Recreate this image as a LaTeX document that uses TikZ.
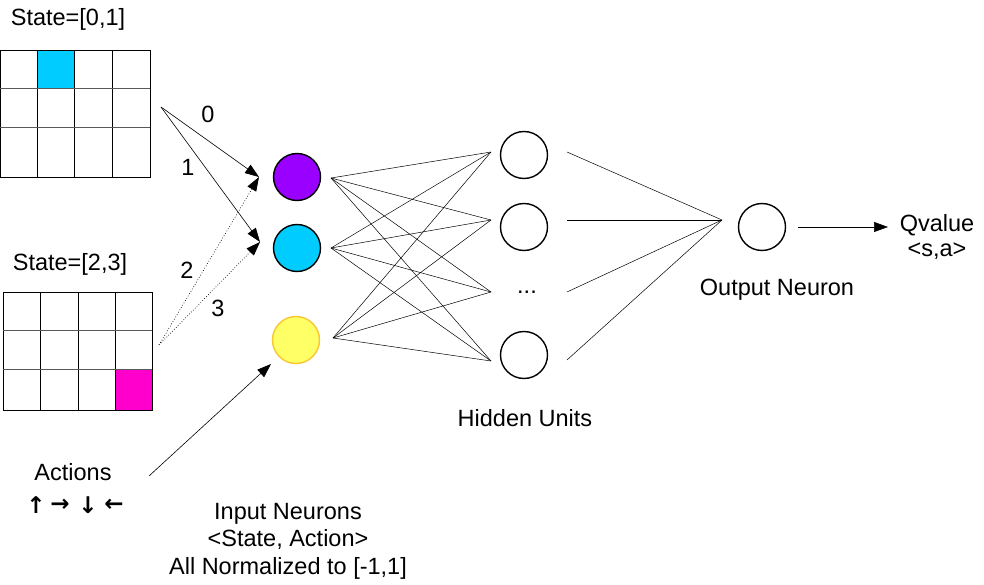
\documentclass[tikz,border=0pt]{standalone}
\usepackage{fontspec}
\setmainfont{Liberation Sans}
\newfontfamily\symfont{DejaVu Sans}
\usetikzlibrary{arrows.meta}
\definecolor{purpC}{HTML}{9900FF}
\definecolor{cyanC}{HTML}{00CCFF}
\definecolor{yelC}{HTML}{FFFF66}
\definecolor{yelD}{HTML}{F7C631}
\definecolor{magC}{HTML}{FF00CC}
\begin{document}
\begin{tikzpicture}[x=1pt,y=-1pt,
  neuron/.style={circle,draw,line width=1.4pt,minimum size=47pt,inner sep=0pt},
  lbl/.style={font=\fontsize{23.5}{27.5}\selectfont,inner sep=0pt,align=center},
  symb/.style={font=\symfont\bfseries\fontsize{23}{24}\selectfont,inner sep=0pt},
  conn/.style={line width=0.5pt},
  arr/.style={line width=0.6pt,-{Triangle[length=14pt,width=10pt]}},
  dotarr/.style={line width=0.7pt,dotted,-{Triangle[length=14pt,width=10pt]}},
  gridline/.style={line width=1pt}]
\useasboundingbox (0,0) rectangle (984,585);
\fill[white] (0,0) rectangle (984,585);

% grid 1
\fill[cyanC] (37,51) rectangle (74,89);
\draw[gridline] (0,51) rectangle (150,178);
\foreach \x in {37,74,112} \draw[gridline] (\x,51) -- (\x,178);
\foreach \y in {89,128} \draw[gridline,gray!70!black] (0,\y) -- (150,\y);
% grid 2
\fill[magC] (115,369) rectangle (152,410);
\draw[gridline] (3,292) rectangle (152,410);
\foreach \x in {40,78,115} \draw[gridline] (\x,292) -- (\x,410);
\foreach \y in {330,369} \draw[gridline,gray!70!black] (3,\y) -- (152,\y);

% labels
\node[lbl] (st1) at (68,19) {State=[0,1]};
\node[lbl] (st2) at (70,264) {State=[2,3]};
\node[lbl] (act) at (73,472) {Actions};
\node[symb] (au) at (36,505) {↑};
\node[symb] (ar) at (60,505) {→};
\node[symb] (ad) at (88,505) {↓};
\node[symb] (al) at (114,505) {←};
\node[lbl] (inl) at (288,541) {Input Neurons\\ <State, Action>\\ All Normalized to [-1,1]};
\node[lbl] (hid) at (525,418) {Hidden Units};
\node[lbl] (outl) at (777,290) {Output Neuron};
\node[lbl] (qv) at (937,225) {Qvalue};
\node[lbl] (sa) at (937,251) {<s,a>};
\node[lbl] (n0) at (208,114) {0};
\node[lbl] (n1) at (188,167) {1};
\node[lbl] (n2) at (187,270) {2};
\node[lbl] (n3) at (218,308) {3};

% neurons
\node[neuron,fill=purpC] (i1) at (297,177) {};
\node[neuron,fill=cyanC] (i2) at (297,248) {};
\node[neuron,fill=yelC,draw=yelD] (i3) at (296,340) {};
\node[neuron] (h1) at (524,155) {};
\node[neuron] (h2) at (524,227) {};
\node[lbl] (hdots) at (527,292) {...};
\node[neuron] (h4) at (524,355) {};
\node[neuron] (o) at (762,227) {};

% coordinates
\coordinate (s1) at (161,107);
\coordinate (s2) at (159,345);
\coordinate (a0) at (149,476);
\coordinate (t1) at (259,177);
\coordinate (t2) at (260,242);
\coordinate (t3) at (271,364);
\coordinate (ip1) at (331,178);
\coordinate (ip2) at (331,248);
\coordinate (ip3) at (333,338);
\coordinate (hi1) at (491,152);
\coordinate (hi2) at (491,220);
\coordinate (hi3) at (491,292);
\coordinate (hi4) at (491,361);
\coordinate (ho1) at (567,152);
\coordinate (ho2) at (567,220);
\coordinate (ho3) at (567,292);
\coordinate (ho4) at (567,360);
\coordinate (oi) at (722,220);
\coordinate (oo) at (798,227);
\coordinate (qa) at (888,227);

% input arrows
\draw[arr] (s1) -- (t1);
\draw[arr] (s1) -- (t2);
\draw[dotarr] (s2) -- (t1);
\draw[dotarr] (s2) -- (t2);
\draw[arr] (a0) -- (t3);

% input -> hidden
\foreach \i in {ip1,ip2,ip3}
  \foreach \h in {hi1,hi2,hi3,hi4}
    \draw[conn] (\i) -- (\h);
% hidden -> output
\foreach \h in {ho1,ho3,ho4} \draw[conn] (\h) -- (oi);
\draw[line width=0.8pt] (ho2) -- (oi);
\draw[arr] (oo) -- (qa);
\end{tikzpicture}
\end{document}
